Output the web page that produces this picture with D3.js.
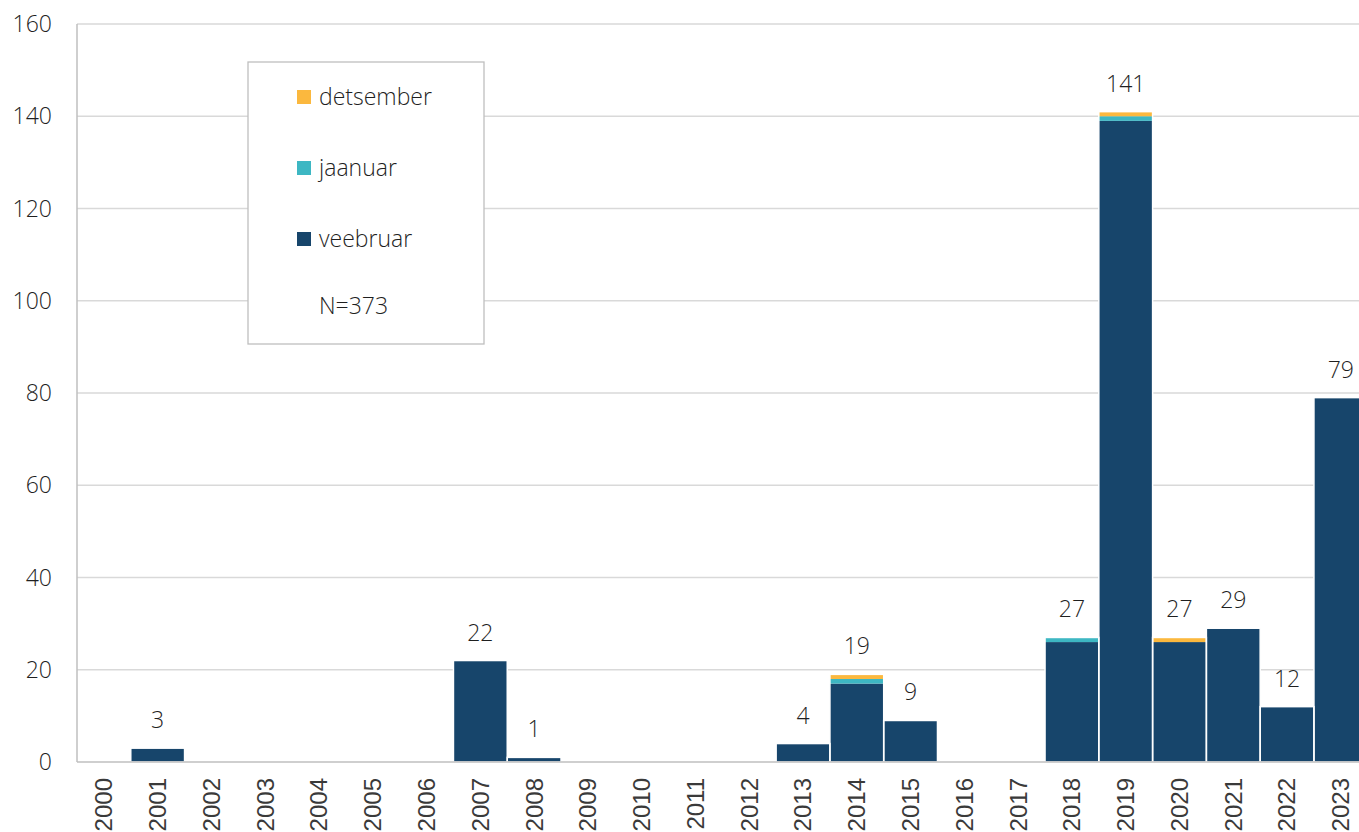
<!DOCTYPE html>
<html>
<head>
<meta charset="utf-8">
<script src="https://cdn.jsdelivr.net/npm/d3@7"></script>
<style>
  body { margin: 0; background: #fff; }
  svg text { font-family: "Open Sans", "Noto Sans", sans-serif; font-weight: 300; fill: #1f1f1f; }
  svg text.year { font-family: "Liberation Sans", Arial, sans-serif; font-weight: 400; fill: #3a3a3a; }
</style>
</head>
<body>
<script>
// years on the x axis
var years = ["2000","2001","2002","2003","2004","2005","2006","2007","2008","2009","2010","2011",
             "2012","2013","2014","2015","2016","2017","2018","2019","2020","2021","2022","2023"];
// per month series (stack order bottom -> top)
var veebruar  = [0,3,0,0,0,0,0,22,1,0,0,0,0,4,17,9,0,0,26,139,26,29,12,79];
var jaanuar   = [0,0,0,0,0,0,0,0,0,0,0,0,0,0,1,0,0,0,1,1,0,0,0,0];
var detsember = [0,0,0,0,0,0,0,0,0,0,0,0,0,0,1,0,0,0,0,1,1,0,0,0];
var yTicks = [0,20,40,60,80,100,120,140,160];
var seriesNames = ["veebruar","jaanuar","detsember"];
var colors = {veebruar: "#17456b", jaanuar: "#3db7c3", detsember: "#fbb83e"};
var totalLabel = "N=373";

var width = 1359, height = 832;
var svg = d3.select("body").append("svg")
  .attr("width", width)
  .attr("height", height);

// plot box (window.top is reserved, so use other names)
var plotLeft = 77, plotTop = 24, plotBottom = 762, bw = 53.78;

var x = d3.scaleBand().domain(years).range([plotLeft, plotLeft + bw*years.length]).padding(0);
var y = d3.scaleLinear().domain([0,160]).range([plotBottom, plotTop]);

// gridlines
svg.append("g").selectAll("line")
  .data(yTicks.filter(function(d){ return d > 0; }))
  .enter().append("line")
  .attr("x1", plotLeft).attr("x2", width)
  .attr("y1", function(d){ return y(d); })
  .attr("y2", function(d){ return y(d); })
  .attr("stroke", "#d9d9d9").attr("stroke-width", 1.3);

// table for stacking
var rows = years.map(function(yr, i){
  return {year: yr, veebruar: veebruar[i], jaanuar: jaanuar[i], detsember: detsember[i]};
});
var stack = d3.stack().keys(seriesNames)(rows);
function total(r){ return r.veebruar + r.jaanuar + r.detsember; }

var layers = svg.append("g").selectAll("g")
  .data(stack)
  .enter().append("g")
  .attr("fill", function(d){ return colors[d.key]; });

layers.selectAll("rect")
  .data(function(d){ return d.filter(function(p){ return p[1] - p[0] > 0; }); })
  .enter().append("rect")
  .attr("x", function(d){ return x(d.data.year); })
  .attr("width", x.bandwidth())
  .attr("y", function(d){ return y(d[1]); })
  .attr("height", function(d){ return y(d[0]) - y(d[1]); });

// white separators between neighbouring bars
svg.append("g").selectAll("rect")
  .data(rows.filter(function(r){ return total(r) > 0; }))
  .enter().append("rect")
  .attr("x", function(d){ return x(d.year); })
  .attr("width", x.bandwidth())
  .attr("y", function(d){ return y(total(d)); })
  .attr("height", function(d){ return plotBottom - y(total(d)); })
  .attr("fill", "none").attr("stroke", "#fff").attr("stroke-width", 1.5);

// axis lines
svg.append("line").attr("x1", plotLeft).attr("x2", plotLeft).attr("y1", plotTop).attr("y2", plotBottom)
  .attr("stroke", "#bfbfbf").attr("stroke-width", 1.5);
svg.append("line").attr("x1", plotLeft).attr("x2", width).attr("y1", plotBottom).attr("y2", plotBottom)
  .attr("stroke", "#bfbfbf").attr("stroke-width", 1.5);

// y tick labels
svg.append("g").selectAll("text")
  .data(yTicks)
  .enter().append("text")
  .attr("x", 52)
  .attr("y", function(d){ return y(d); })
  .attr("dy", "0.35em")
  .attr("text-anchor", "end")
  .style("font-size", "23px")
  .text(function(d){ return d; });

// x labels (rotated)
svg.append("g").selectAll("text")
  .data(years)
  .enter().append("text")
  .attr("class", "year")
  .attr("transform", function(d){
    return "translate(" + (x(d) + x.bandwidth()/2) + "," + 778 + ") rotate(-90)";
  })
  .attr("dy", "0.35em")
  .attr("text-anchor", "end")
  .style("font-size", "24px")
  .text(function(d){ return d; });

// totals above bars
svg.append("g").selectAll("text")
  .data(rows.filter(function(r){ return total(r) > 0; }))
  .enter().append("text")
  .attr("x", function(d){ return x(d.year) + x.bandwidth()/2; })
  .attr("y", function(d){ return y(total(d)) - 20; })
  .attr("text-anchor", "middle")
  .style("font-size", "23px")
  .text(function(d){ return total(d); });

// legend
var lg = svg.append("g");
lg.append("rect").attr("x", 248).attr("y", 62).attr("width", 236).attr("height", 282)
  .attr("fill", "#fff").attr("stroke", "#bfbfbf").attr("stroke-width", 1.3);
var legendItems = seriesNames.slice().reverse();
legendItems.forEach(function(k, i){
  var cy = 97 + i*71;
  lg.append("rect").attr("x", 297).attr("y", cy - 7).attr("width", 14).attr("height", 14)
    .attr("fill", colors[k]);
  lg.append("text").attr("x", 319).attr("y", cy).attr("dy", "0.35em")
    .style("font-size", "23px").text(k);
});
lg.append("text").attr("x", 319).attr("y", 306).attr("dy", "0.35em")
  .style("font-size", "23px").text(totalLabel);
</script>
</body>
</html>
